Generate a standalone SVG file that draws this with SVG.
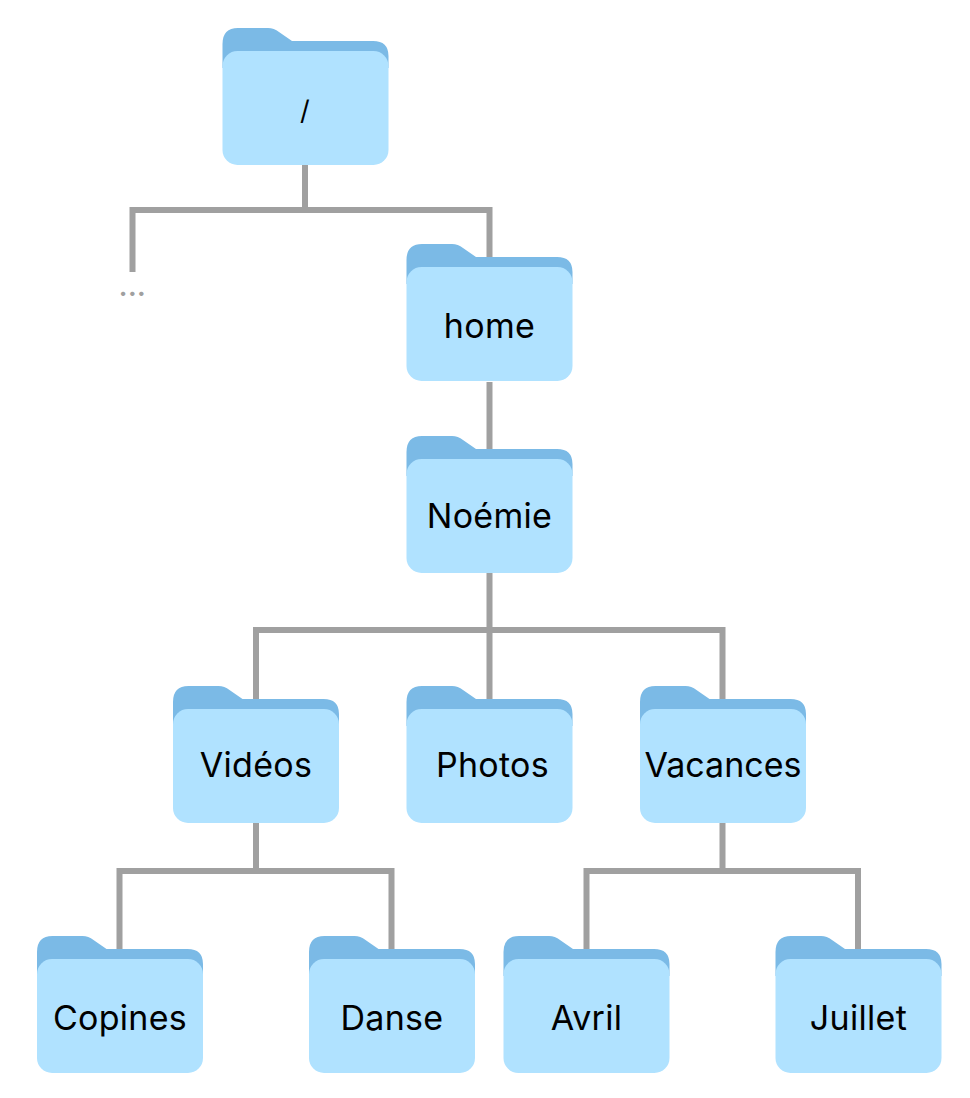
<svg xmlns="http://www.w3.org/2000/svg" width="970" height="1098" viewBox="0 0 970 1098">
<style>
.back{fill:#7bbae6}
.front{fill:#b0e2ff}
.c{fill:none;stroke:#a0a0a0;stroke-width:6}
text{font-family:Inter,"Noto Sans",sans-serif;font-size:34px;letter-spacing:.3px;fill:#000;text-anchor:middle}
.slash{font-size:27px}
.dots{font-size:26px;font-weight:700;fill:#a0a0a0;letter-spacing:.5px}
</style>
<defs>
<g id="folder">
<path class="back" d="M0.500 40V16Q0.500 0 16 0H46Q52 0 57 4L70 13H151Q166.500 13 166.500 28V40Z"/>
<rect class="front" x="0.500" y="23" width="166" height="114" rx="15"/>
</g>
</defs>
<g id="connectors">
<path class="c" d="M305 165V210M129.500 210H492.500M132.500 207V272M489.500 207V258"/>
<path class="c" d="M489.500 382V450"/>
<path class="c" d="M489.500 573V699M253 630H725.500M256 627V699M722.500 627V699"/>
<path class="c" d="M256 823V871M116.500 871H394.500M119.500 868V950M391.500 868V950"/>
<path class="c" d="M722.500 823V871M583.500 871H861M586.500 868V950M858 868V950"/>
</g>
<g id="node-root"><use href="#folder" x="222" y="28"/><text class="slash" x="305" y="120">/</text></g>
<g id="node-ellipsis"><text class="dots" x="132.500" y="296">...</text></g>
<g id="node-home"><use href="#folder" x="406" y="244"/><text x="489.500" y="338">home</text></g>
<g id="node-noemie"><use href="#folder" x="406" y="436"/><text x="489.500" y="528">Noémie</text></g>
<g id="node-videos"><use href="#folder" x="172.500" y="686"/><text x="256" y="777">Vidéos</text></g>
<g id="node-photos"><use href="#folder" x="406" y="686"/><text x="492.500" y="777">Photos</text></g>
<g id="node-vacances"><use href="#folder" x="639.500" y="686"/><text x="723" y="777" style="letter-spacing:0">Vacances</text></g>
<g id="node-copines"><use href="#folder" x="36.500" y="936"/><text x="120" y="1030">Copines</text></g>
<g id="node-danse"><use href="#folder" x="308.500" y="936"/><text x="392" y="1030">Danse</text></g>
<g id="node-avril"><use href="#folder" x="503" y="936"/><text x="586.500" y="1030">Avril</text></g>
<g id="node-juillet"><use href="#folder" x="775" y="936"/><text x="858.500" y="1030">Juillet</text></g>
</svg>
